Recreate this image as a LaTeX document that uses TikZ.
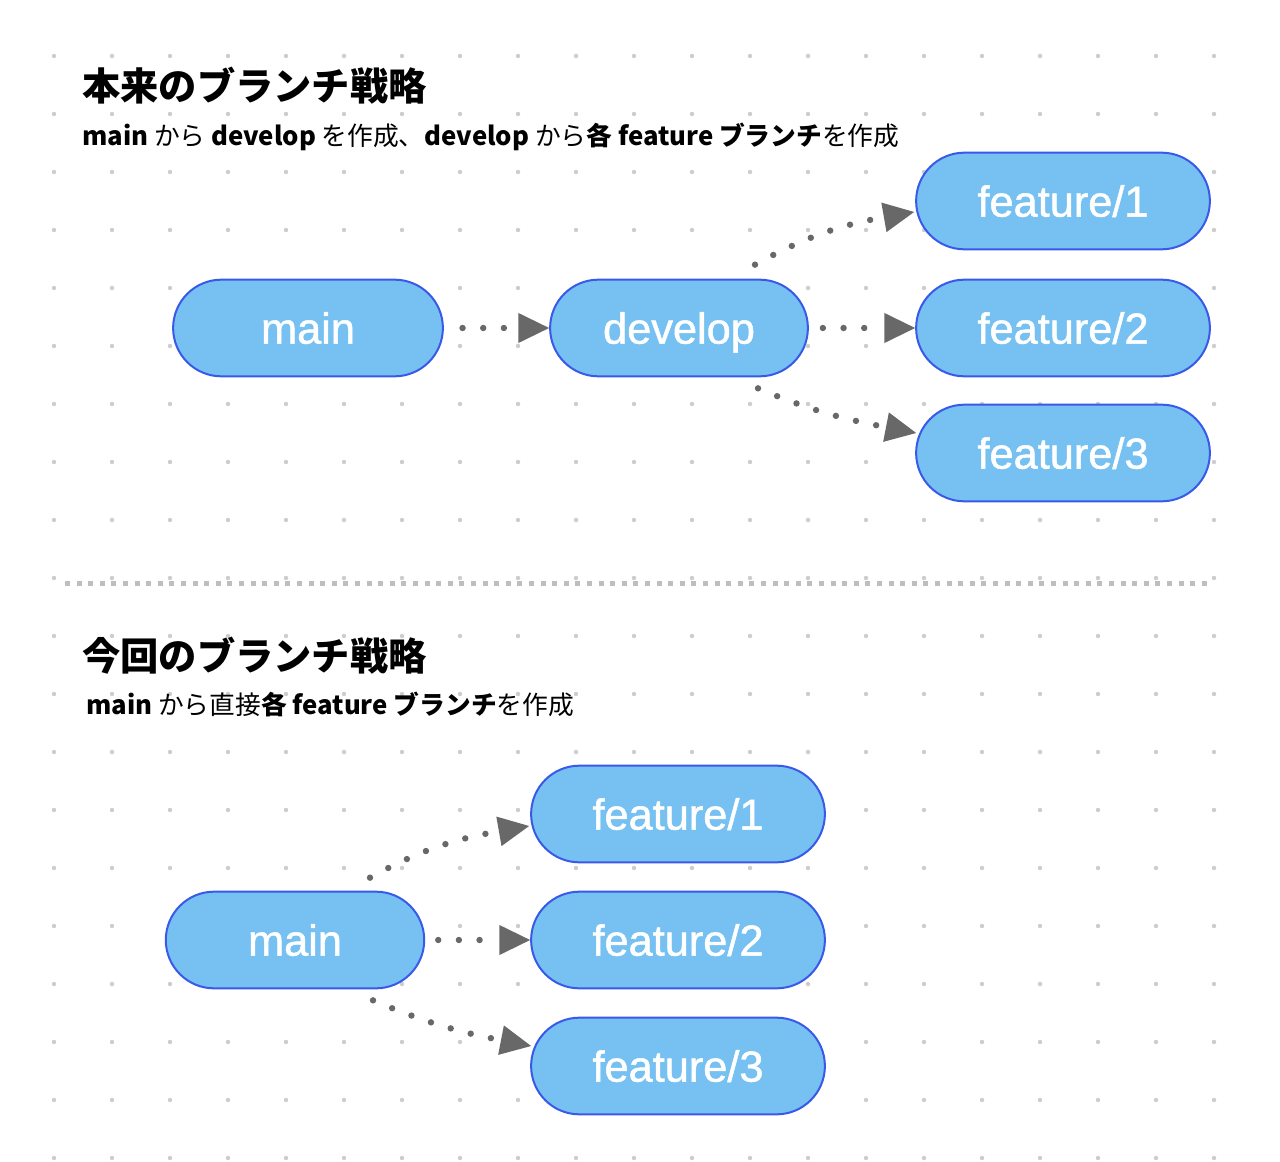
\documentclass[tikz,border=0pt]{standalone}
\usepackage{fontspec}
\setmainfont{Noto Sans CJK JP}
\newfontfamily\latinfont[FakeBold=1.2]{Liberation Sans}
\usepackage{tikz}
\usetikzlibrary{shapes,shapes.misc,arrows.meta,positioning}
\definecolor{bleu}{RGB}{118,193,241}
\definecolor{bord}{RGB}{57,90,232}
\definecolor{fleche}{RGB}{104,104,104}
\definecolor{grille}{RGB}{205,205,205}
\definecolor{trait}{RGB}{190,190,190}
\tikzstyle{branch}=[rounded rectangle, draw=bord, fill=bleu, line width=1.5pt,
    minimum height=72.5pt, text=white, text height=24pt, text depth=0.6pt,
    font=\latinfont\fontsize{32.5}{38}\selectfont]
\tikzstyle{flow}=[draw=fleche, line width=4.8pt, line cap=round, dash pattern=on 0pt off 15.5pt,
    -{Triangle[length=23pt,width=22.5pt,line width=0pt]}]
\tikzstyle{heading}=[anchor=base west, inner sep=0pt, font=\bfseries\fontsize{28.7}{34}\selectfont]
\tikzstyle{caption}=[anchor=base west, inner sep=0pt, font=\fontsize{19.3}{24}\selectfont]

\begin{document}
\begin{tikzpicture}[x=0.75pt,y=0.75pt]

\useasboundingbox (0,0) rectangle (1280,-1162);
\fill[white] (0,0) rectangle (1280,-1162);

% grid
\foreach \i in {0,...,20}
    \foreach \j in {0,...,19}
        \fill[grille] ({54+58*\i},{-56-58*\j}) circle (2.2);

% text
\node[heading] (titre1) at (82,-101) {本来のブランチ戦略};
\node[caption] (sous1) at (82,-146) {\textbf{main} から \textbf{develop} を作成、\textbf{develop} から\textbf{各 feature ブランチ}を作成};
\node[heading] (titre2) at (82,-670) {今回のブランチ戦略};
\node[caption] (sous2) at (86,-714) {\textbf{main} から直接\textbf{各 feature ブランチ}を作成};

% separation
\draw[trait, line width=3.75pt, dash pattern=on 3.75pt off 4.95pt] (65,-583) -- (1212,-583);

% branches (haut)
\node[branch, minimum width=209pt] (main) at (308,-328) {main};
\node[branch, minimum width=200pt] (develop) at (679,-328) {develop};
\node[branch, minimum width=227pt] (feat1) at (1063,-201) {feature/1};
\node[branch, minimum width=227pt] (feat2) at (1063,-328) {feature/2};
\node[branch, minimum width=227pt] (feat3) at (1063,-453) {feature/3};

% branches (bas)
\node[branch, minimum width=200.5pt] (mainb) at (295,-940) {main};
\node[branch, minimum width=227pt] (featb1) at (678,-814) {feature/1};
\node[branch, minimum width=227pt] (featb2) at (678,-940) {feature/2};
\node[branch, minimum width=227pt] (featb3) at (678,-1066) {feature/3};

% fleches
\draw[flow, shorten <=14pt] (main.east) -- (develop.west);
\draw[flow] ([shift={(76,14)}]develop.north) to[out=29,in=190] ([shift={(-1,-11)}]feat1.west);
\draw[flow, shorten <=10.5pt] (develop.east) -- (feat2.west);
\draw[flow] ([shift={(79,-11)}]develop.south) to[out=-23,in=169] ([shift={(1,20)}]feat3.west);

\draw[flow] ([shift={(75,13)}]mainb.north) to[out=29,in=190] ([shift={(-1,-12)}]featb1.west);
\draw[flow, shorten <=9.75pt] (mainb.east) -- (featb2.west);
\draw[flow] ([shift={(78,-11)}]mainb.south) to[out=-23,in=169] ([shift={(1,20)}]featb3.west);

\end{tikzpicture}
\end{document}
